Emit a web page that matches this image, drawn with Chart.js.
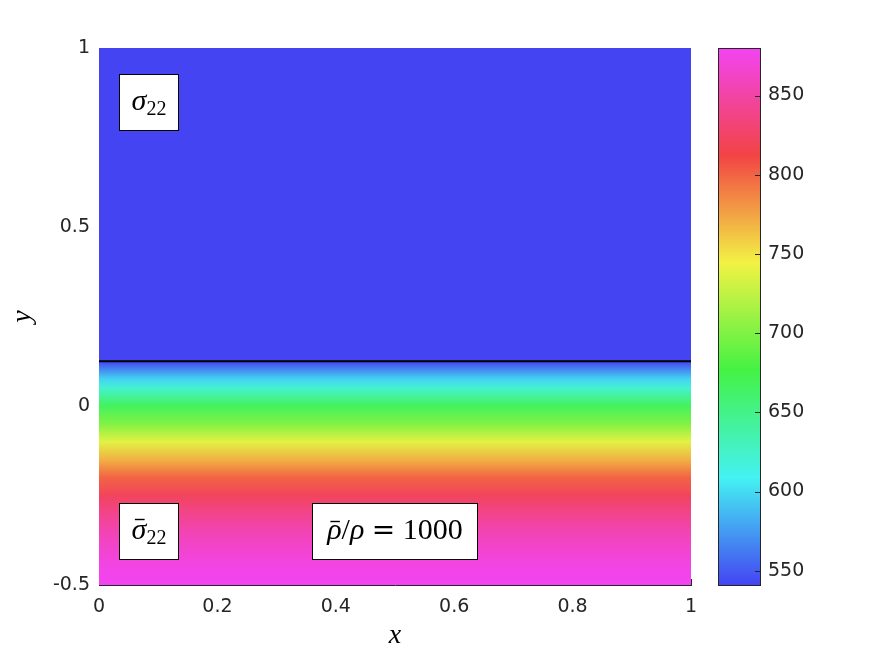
<!DOCTYPE html>
<html>
<head>
<meta charset="utf-8">
<title>sigma22 field</title>
<script src="https://cdn.jsdelivr.net/npm/chart.js@4"></script>
<style>
  html, body { margin: 0; padding: 0; background: #fff; }
  #wrap { position: relative; width: 875px; height: 656px; }
  #wrap canvas { position: absolute; left: 0; top: 0; }
</style>
</head>
<body>
<div id="wrap">
  <canvas id="field" width="875" height="656"></canvas>
  <canvas id="cbar" width="875" height="656"></canvas>
</div>
<script>
// ── Data ───────────────────────────────────────────────────
const xRange      = [0, 1];
const xTicks      = [0, 0.2, 0.4, 0.6, 0.8, 1];
const yRange      = [-0.5, 1];
const yTicks      = [-0.5, 0, 0.5, 1];

// interface height and the constant value above it
const interfaceY  = 0.125;
const upperValue  = 541;

const profileY     = [0.125, 0.1, 0.075, 0.05, 0.025, 0, -0.05, -0.1, -0.15, -0.2, -0.25, -0.3, -0.35, -0.4, -0.45, -0.5];
const profileValue = [541,   570, 597,   622,  645,   667, 700,  738,  770,   800,  822,   840,  855,   866,  875,   880];

// colour bar
const cbarRange   = [541, 880];
const cbarTicks   = [550, 600, 650, 700, 750, 800, 850];
const cmapValues  = [541, 608.8, 676.6, 744.4, 812.2, 880];
const cmapColors  = ["#4444f2", "#44f2f2", "#44f244", "#f2f244", "#f24444", "#f244f2"];

// ── Text boxes (data coords) ───────────────────────────────
// part = [text, font key, draw a bar over it]
const textBoxes = [
  { x: [0.033, 0.133], y: [0.927, 0.771],   parts: [["σ", "it"], ["22", "sub"]] },
  { x: [0.033, 0.133], y: [-0.271, -0.427], parts: [["σ", "it", true], ["22", "sub"]] },
  { x: [0.36, 0.639],  y: [-0.271, -0.427], parts: [["ρ", "it", true], ["/", "rm"], ["ρ", "it"], [" ", "rm"], ["=", "eq"], [" ", "rm"], ["1000", "rm"]] },
];

// ── Helpers ────────────────────────────────────────────────
const INK   = "#262626";
const SERIF = '"Liberation Serif", "Times New Roman", serif';
const SANS  = '"DejaVu Sans", sans-serif';
const fonts = {
  it:  { font: `italic 30px ${SERIF}`,    dy: 7 },
  rm:  { font: `30px ${SERIF}`,           dy: 7 },
  eq:  { font: `28px "DejaVu Serif"`,     dy: 7 },
  sub: { font: `20px ${SERIF}`,           dy: 12 },
};

const hexRgb = h => [1, 3, 5].map(i => parseInt(h.slice(i, i + 2), 16));
const cmapRgb = cmapColors.map(hexRgb);

function colormap(v) {
  if (v <= cmapValues[0]) return cmapColors[0];
  for (let i = 1; i < cmapValues.length; i++) {
    if (v <= cmapValues[i]) {
      const t = (v - cmapValues[i - 1]) / (cmapValues[i] - cmapValues[i - 1]);
      const a = cmapRgb[i - 1], b = cmapRgb[i];
      const c = a.map((ai, k) => Math.round(ai + (b[k] - ai) * t));
      return `rgb(${c[0]},${c[1]},${c[2]})`;
    }
  }
  return cmapColors[cmapColors.length - 1];
}

function fieldGradient(chart) {
  const { ctx, chartArea, scales } = chart;
  if (!chartArea) return colormap(upperValue);
  const ys = scales.y;
  const top = ys.getPixelForValue(profileY[0]);
  const bot = ys.getPixelForValue(profileY[profileY.length - 1]);
  const g = ctx.createLinearGradient(0, top, 0, bot);
  profileY.forEach((v, i) => {
    g.addColorStop((ys.getPixelForValue(v) - top) / (bot - top), colormap(profileValue[i]));
  });
  return g;
}

function cbarGradient(chart) {
  const { ctx, chartArea, scales } = chart;
  if (!chartArea) return cmapColors[0];
  const ys = scales.y;
  const top = ys.getPixelForValue(cbarRange[1]);
  const bot = ys.getPixelForValue(cbarRange[0]);
  const g = ctx.createLinearGradient(0, bot, 0, top);
  cmapValues.forEach((v, i) => {
    g.addColorStop((bot - ys.getPixelForValue(v)) / (bot - top), cmapColors[i]);
  });
  return g;
}

const setTicks = list => scale => { scale.ticks = list.map(value => ({ value })); };
const tickFont = { family: SANS, size: 19 };

// ── Plugins ────────────────────────────────────────────────
const boxPlugin = {
  id: "textBoxes",
  afterDatasetsDraw(chart) {
    const { ctx, chartArea: a, scales: { x, y } } = chart;
    ctx.save();

    // the one tick mark that shows above the image (x = 1)
    ctx.strokeStyle = INK;
    ctx.lineWidth = 1;
    ctx.beginPath();
    ctx.moveTo(Math.round(x.getPixelForValue(xTicks[xTicks.length - 1])) + 0.5, a.bottom);
    ctx.lineTo(Math.round(x.getPixelForValue(xTicks[xTicks.length - 1])) + 0.5, a.bottom - 6);
    ctx.stroke();

    textBoxes.forEach(b => {
      const x0 = Math.round(x.getPixelForValue(b.x[0])) + 0.5;
      const x1 = Math.round(x.getPixelForValue(b.x[1])) + 0.5;
      const y0 = Math.round(y.getPixelForValue(b.y[0])) + 0.5;
      const y1 = Math.round(y.getPixelForValue(b.y[1])) + 0.5;
      ctx.fillStyle = "#fff";
      ctx.fillRect(x0, y0, x1 - x0, y1 - y0);
      ctx.strokeStyle = "#000";
      ctx.lineWidth = 1;
      ctx.strokeRect(x0, y0, x1 - x0, y1 - y0);

      // measure then centre the pieces
      let total = 0;
      const metrics = b.parts.map(([t, f]) => {
        ctx.font = fonts[f].font;
        const m = ctx.measureText(t);
        total += m.width;
        return m;
      });
      let cx = (x0 + x1) / 2 - total / 2;
      const cy = (y0 + y1) / 2;
      ctx.fillStyle = "#000";
      ctx.textBaseline = "alphabetic";
      ctx.textAlign = "left";
      b.parts.forEach(([t, f, bar], i) => {
        const m = metrics[i];
        const base = cy + fonts[f].dy;
        ctx.font = fonts[f].font;
        ctx.fillText(t, cx, base);
        if (bar) {
          const by = Math.round(base - m.actualBoundingBoxAscent - 4) + 0.5;
          ctx.beginPath();
          ctx.lineWidth = 1.4;
          ctx.moveTo(cx + m.width * 0.22, by);
          ctx.lineTo(cx + m.width * 0.88, by);
          ctx.stroke();
        }
        cx += m.width;
      });
    });
    ctx.restore();
  },
};

const framePlugin = {
  id: "cbarFrame",
  afterDraw(chart) {
    const { ctx, chartArea: a, scales: { y } } = chart;
    ctx.save();
    ctx.strokeStyle = INK;
    ctx.lineWidth = 1;
    ctx.strokeRect(Math.round(a.left) + 0.5, Math.round(a.top) + 0.5, Math.round(a.right - a.left), Math.round(a.bottom - a.top));
    ctx.beginPath();
    cbarTicks.forEach(v => {
      const py = Math.round(y.getPixelForValue(v)) + 0.5;
      ctx.moveTo(a.right - 5, py);
      ctx.lineTo(a.right, py);
    });
    ctx.stroke();
    ctx.restore();
  },
};

// ── Field chart ────────────────────────────────────────────
const field = new Chart(document.getElementById("field"), {
  type: "line",
  data: {
    datasets: [
      {
        // region above the interface, black interface line on its edge
        data: xRange.map(x => ({ x, y: interfaceY })),
        fill: "end",
        backgroundColor: colormap(upperValue),
        borderColor: "#000",
        borderWidth: 2,
        pointRadius: 0,
      },
      {
        // graded region below the interface
        data: xRange.map(x => ({ x, y: interfaceY })),
        fill: "start",
        backgroundColor: ctx => fieldGradient(ctx.chart),
        borderWidth: 0,
        pointRadius: 0,
      },
    ],
  },
  options: {
    responsive: false,
    animation: false,
    events: [],
    layout: { padding: { top: 48, right: 184, bottom: 0, left: 0 } },
    plugins: { legend: { display: false }, tooltip: { enabled: false } },
    scales: {
      x: {
        type: "linear",
        min: xRange[0],
        max: xRange[1],
        afterBuildTicks: setTicks(xTicks),
        afterFit: s => { s.height = 71; },
        grid:   { display: false, drawTicks: false },
        border: { display: true, color: INK, width: 1 },
        ticks:  { color: INK, font: tickFont, padding: 11, maxRotation: 0, callback: v => String(v) },
        title:  { display: true, text: "x", color: "#000", font: { family: SERIF, style: "italic", size: 28 }, padding: { top: 0, bottom: 4 } },
      },
      y: {
        type: "linear",
        min: yRange[0],
        max: yRange[1],
        afterBuildTicks: setTicks(yTicks),
        afterFit: s => { s.width = 99; },
        grid:   { display: false, drawTicks: false },
        border: { display: false },
        ticks:  { color: INK, font: tickFont, padding: 9, callback: v => String(v) },
        title:  { display: true, text: "y", color: "#000", font: { family: SERIF, style: "italic", size: 28 }, padding: { top: 6, bottom: 0 } },
      },
    },
  },
  plugins: [boxPlugin],
});

// ── Colour bar ─────────────────────────────────────────────
const cbar = new Chart(document.getElementById("cbar"), {
  type: "line",
  data: {
    datasets: [{
      data: xRange.map(x => ({ x, y: cbarRange[1] })),
      fill: "start",
      backgroundColor: ctx => cbarGradient(ctx.chart),
      borderWidth: 0,
      pointRadius: 0,
    }],
  },
  options: {
    responsive: false,
    animation: false,
    events: [],
    layout: { padding: { top: 48, right: 0, bottom: 71, left: 718 } },
    plugins: { legend: { display: false }, tooltip: { enabled: false } },
    scales: {
      x: { type: "linear", min: xRange[0], max: xRange[1], display: false },
      y: {
        type: "linear",
        position: "right",
        min: cbarRange[0],
        max: cbarRange[1],
        afterBuildTicks: setTicks(cbarTicks),
        afterFit: s => { s.width = 115; },
        grid:   { display: false, drawTicks: false },
        border: { display: false },
        ticks:  { color: INK, font: tickFont, padding: 8, callback: v => String(v) },
      },
    },
  },
  plugins: [framePlugin],
});
</script>
</body>
</html>
